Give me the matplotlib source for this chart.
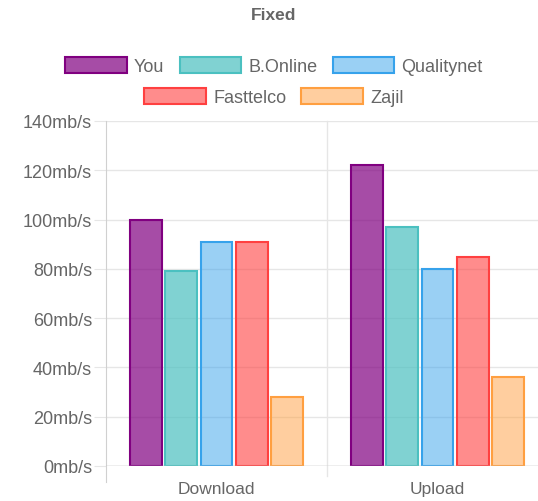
import matplotlib
matplotlib.use("Agg")
from matplotlib import pyplot as plt
from matplotlib.patches import Patch
import numpy as np

plt.rcParams['font.family'] = ['Liberation Sans', 'DejaVu Sans']

categories = ['Download', 'Upload']
providers = ['You', 'B.Online', 'Qualitynet', 'Fasttelco', 'Zajil']
speeds = {
    'You': [100, 122],
    'B.Online': [79, 97],
    'Qualitynet': [91, 80],
    'Fasttelco': [91, 85],
    'Zajil': [28, 36],
}
y_ticks = [0, 20, 40, 60, 80, 100, 120, 140]

edge_colors = ['#800080', '#4bc0c0', '#36a2eb', '#ff4040', '#ff9f40']
fill_colors = [(0.502, 0.0, 0.502, 0.7), (0.294, 0.753, 0.753, 0.7),
               (0.212, 0.635, 0.922, 0.5), (1.0, 0.25, 0.25, 0.6),
               (1.0, 0.624, 0.251, 0.5)]

fig = plt.figure(figsize=(5.38, 5.02), dpi=100)
ax = fig.add_axes([106 / 538, 35 / 502, 442 / 538, 345 / 502])

x = np.arange(len(categories))
group_w = 0.8
slot = group_w / len(providers)
bar_w = slot * 0.9
for i, name in enumerate(providers):
    offs = -group_w / 2 + slot * (i + 0.5)
    ax.bar(x + offs, speeds[name], width=bar_w, color=fill_colors[i],
           edgecolor=edge_colors[i], linewidth=1.5, zorder=3)

ax.set_xlim(-0.5, 1.5)
ax.set_ylim(0, 140)
ax.set_yticks(y_ticks)
ax.set_yticklabels([f'{v}mb/s' for v in y_ticks])
ax.set_xticks(x)
ax.set_xticklabels(categories)
ax.tick_params(axis='y', length=9, color='#e6e6e6', labelcolor='#666666',
               labelsize=13, pad=1)
ax.tick_params(axis='x', length=0, labelcolor='#666666', labelsize=12.5, pad=11)

ax.grid(axis='y', color='#e6e6e6', linewidth=1, zorder=0)
for s in ['top', 'right', 'bottom']:
    ax.spines[s].set_visible(False)
ax.spines['left'].set_color('#d0d0d0')
ax.spines['left'].set_bounds(-6.5, 140)
ax.spines['left'].set_clip_on(False)
ax.axhline(0, color='#bfbfbf', linewidth=1, zorder=4, xmin=-0.02)
ax.axvline(0.5, ymin=-0.03, ymax=1, color='#e6e6e6', linewidth=1,
           zorder=0, clip_on=False)

fig.text(274 / 538, 1 - 16 / 502, 'Fixed', ha='center', va='center',
         fontsize=12.5, fontweight='bold', color='#666666')

handles = [Patch(facecolor=fill_colors[i], edgecolor=edge_colors[i],
                 linewidth=1.5, label=n) for i, n in enumerate(providers)]
leg_kw = dict(frameon=False, handlelength=3.4, handleheight=1.05,
              handletextpad=0.4, columnspacing=0.85, fontsize=13,
              labelcolor='#666666', loc='center', borderaxespad=0,
              borderpad=0)
fig.legend(handles=handles[:3], ncol=3,
           bbox_to_anchor=(274 / 538, 1 - 67 / 502), **leg_kw)
fig.legend(handles=handles[3:], ncol=2,
           bbox_to_anchor=(274 / 538, 1 - 98 / 502), **leg_kw)

fig.savefig('out.png', dpi=100)
